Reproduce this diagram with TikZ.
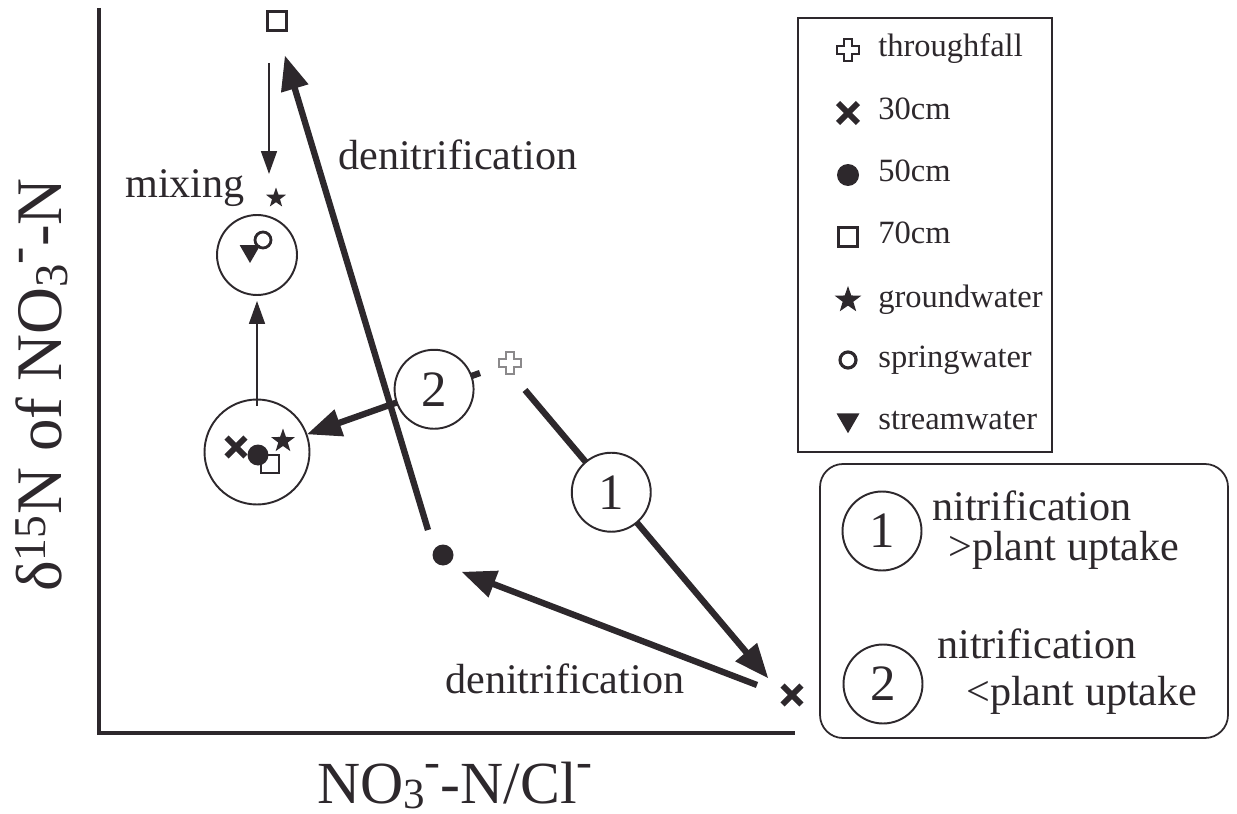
\documentclass[tikz,border=0pt]{standalone}
\usepackage{fontspec}
\setmainfont{Liberation Serif}
\usepackage{tikz}
\usetikzlibrary{arrows, arrows.meta, shapes.geometric, shapes.misc}
\definecolor{ink}{RGB}{45,40,44}
\newcommand{\subthree}{\raisebox{-0.1em}{\scalebox{0.72}{3}}}
\newcommand{\supminus}{\raisebox{0.42em}{\scalebox{0.8}{-}}}

\tikzset{
  mk30/.style={cross out, draw=ink, line width=3.4pt, minimum size=0.26cm, inner sep=0pt},
  mk50/.style={circle, fill=ink, minimum size=0.42cm, inner sep=0pt},
  mk70/.style={rectangle, draw=ink, line width=1.4pt, minimum size=0.38cm, inner sep=0pt},
  mkgw/.style={star, star points=5, star point ratio=2.5, fill=ink, minimum size=0.56cm, inner sep=0pt},
  mksp/.style={circle, draw=ink, line width=1.6pt, minimum size=0.3cm, inner sep=0pt},
  mkst/.style={regular polygon, regular polygon sides=3, shape border rotate=180, fill=ink, minimum size=0.5cm, inner sep=0pt},
  num/.style={circle, draw=ink, line width=1.1pt, fill=white, minimum size=1.58cm, inner sep=0pt, font=\fontsize{29}{29}\selectfont},
  mixring/.style={circle, draw=ink, line width=1.1pt, inner sep=0pt},
  thickarr/.style={->, line width=3.6pt},
  thinarr/.style={-{Triangle[length=13pt,width=9pt]}, line width=1.1pt},
  lbl/.style={anchor=base west, inner sep=0pt, font=\fontsize{24}{24}\selectfont},
  keylbl/.style={anchor=base west, inner sep=0pt, font=\fontsize{18.5}{18.5}\selectfont},
  boxlbl/.style={anchor=base west, inner sep=0pt, font=\fontsize{24}{24}\selectfont},
  tfall/.pic={\draw[line width=0.9pt] (-4,-11) -- (4,-11) -- (4,-4) -- (11,-4) -- (11,4) -- (4,4)
      -- (4,11) -- (-4,11) -- (-4,4) -- (-11,4) -- (-11,-4) -- (-4,-4) -- cycle;}
}

\begin{document}
\begin{tikzpicture}[x=0.02cm, y=-0.02cm, >=triangle 45, ink]
  \useasboundingbox (0,0) rectangle (1237,814);

  % axes
  \coordinate (o) at (99,733);
  \draw[line width=2.6pt] (99,8) -- (o) -- (795,733);
  \node[rotate=90, anchor=base, inner sep=0pt, font=\fontsize{37}{37}\selectfont] (ylab) at (61,385)
      {δ\textsuperscript{15}N of NO\subthree\supminus-N};
  \node[anchor=base, inner sep=0pt, font=\fontsize{34}{34}\selectfont] (xlab) at (455,803)
      {NO\subthree\supminus-N/Cl\supminus};

  % samples
  \node[mk70] (sq) at (277,21) {};
  \node[mkgw, minimum size=0.42cm] (gw) at (276,198) {};
  \node[mk50] (d50) at (443,555) {};
  \node[mk30] (x30) at (792,695) {};
  \coordinate (tf) at (510,363);
  \pic[ink!55] at (tf) {tfall};

  % mixing
  \node[mixring, minimum size=1.6cm] (mixA) at (257,255) {};
  \node[mixring, minimum size=2.1cm] (mixB) at (257,452) {};
  \node[mksp, minimum size=0.32cm] (spA) at (263,240) {};
  \node[mkst, minimum size=0.48cm] (stA) at (250,251) {};
  \node[mk70, minimum size=0.36cm] (sqB) at (270,464) {};
  \node[mk50, minimum size=0.42cm] (d50B) at (258,455) {};
  \node[mk30, minimum size=0.26cm] (x30B) at (236,447) {};
  \node[mkgw, minimum size=0.5cm] (gwB) at (283,441) {};
  \node[lbl] (mix) at (125,198) {mixing};

  % arrows
  \coordinate (s70) at (269,63);
  \coordinate (e70) at (269,174);
  \draw[thinarr] (s70) -- (e70);
  \draw[thinarr, shorten <=-0.15cm, shorten >=0.1cm] (mixB.north) -- (mixA.south);

  \coordinate (dn1s) at (428,530);
  \coordinate (dn1e) at (285,56);
  \draw[thickarr] (dn1s) -- (dn1e);
  \node[lbl] (dnA) at (338,170) {denitrification};

  \coordinate (a1s) at (525,390);
  \coordinate (a1e) at (768,678);
  \draw[thickarr] (a1s) -- (a1e) node[num, pos=0.355] (n1) {1};

  \coordinate (dn2s) at (757,685);
  \coordinate (dn2e) at (462,572);
  \draw[thickarr] (dn2s) -- (dn2e);
  \node[lbl] (dnB) at (445,693) {denitrification};

  \coordinate (a2s) at (480,373);
  \draw[thickarr] (a2s) -- (mixB) node[num, pos=0.266] (n2) {2};

  % legend
  \draw[line width=0.9pt] (798,18) rectangle (1052,452);
  \pic at (848,50) {tfall};
  \node[mk30, minimum size=0.28cm] (k30) at (848,113) {};
  \node[mk50, minimum size=0.44cm] (k50) at (848,175) {};
  \node[mk70, minimum size=0.38cm, line width=1.9pt] (k70) at (848,237) {};
  \node[mkgw, minimum size=0.56cm] (kgw) at (848,300) {};
  \node[mksp, minimum size=0.32cm, line width=1.8pt] (ksp) at (848,360) {};
  \node[mkst, minimum size=0.53cm] (kst) at (848,420) {};
  \node[keylbl] at (878,57) {throughfall};
  \node[keylbl] at (878,120) {30cm};
  \node[keylbl] at (878,182) {50cm};
  \node[keylbl] at (878,244) {70cm};
  \node[keylbl] at (878,307) {groundwater};
  \node[keylbl] at (878,367) {springwater};
  \node[keylbl] at (878,429) {streamwater};

  % process key
  \draw[line width=1pt, rounded corners=0.46cm] (820,464) rectangle (1228,738);
  \node[num] (k1) at (882,531) {1};
  \node[num] (k2) at (883,684) {2};
  \node[boxlbl] at (932,520) {nitrification};
  \node[boxlbl] at (948,560) {>plant uptake};
  \node[boxlbl] at (937,658) {nitrification};
  \node[boxlbl] at (966,705) {<plant uptake};
\end{tikzpicture}
\end{document}
